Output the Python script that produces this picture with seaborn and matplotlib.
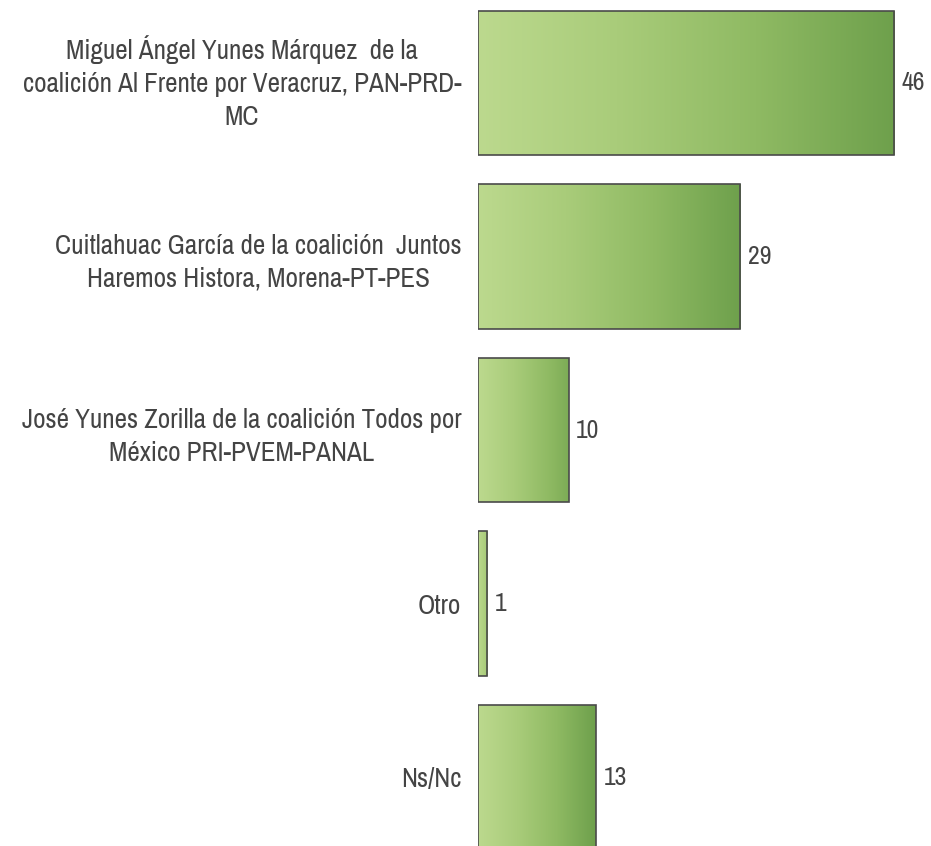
import numpy as np
import pandas as pd
import matplotlib
matplotlib.use("Agg")
import matplotlib.pyplot as plt
from matplotlib.colors import LinearSegmentedColormap
from matplotlib import font_manager as fm
import seaborn as sns

categories = [
    "Miguel Ángel Yunes Márquez  de la\ncoalición Al Frente por Veracruz, PAN-PRD-\nMC",
    "Cuitlahuac García de la coalición  Juntos\nHaremos Histora, Morena-PT-PES",
    "José Yunes Zorilla de la coalición Todos por\nMéxico PRI-PVEM-PANAL",
    "Otro",
    "Ns/Nc",
]
values = [46, 29, 10, 1, 13]

sns.set_theme(style="white")
installed = set(f.name for f in fm.fontManager.ttflist)
cands = ['Liberation Sans Narrow', 'Arial Narrow', 'Archivo Narrow', 'PT Sans Narrow',
         'Roboto Condensed', 'Liberation Sans']
fams = [c for c in cands if c in installed] + ['DejaVu Sans']
plt.rcParams['font.family'] = fams

W, H = 931, 846
fig = plt.figure(figsize=(W / 100, H / 100), dpi=100)
left = 478 / W
ax = fig.add_axes([left, 0, 1 - left, 1])

df = pd.DataFrame({"cat": categories, "val": values})
sns.barplot(data=df, x="val", y="cat", orient="h", width=0.83,
            color="#9cc46e", edgecolor="#4a4a4a", linewidth=1.2, ax=ax)

cmap = LinearSegmentedColormap.from_list("g", ["#bcd98e", "#a9cc7a", "#8fba63", "#6ea04c"])
for p in ax.patches:
    x0, y0 = p.get_x(), p.get_y()
    w, h = p.get_width(), p.get_height()
    frac = min(1.0, w / 20 + 0.35)
    im = ax.imshow(np.linspace(0, frac, 256).reshape(1, -1), cmap=cmap, vmin=0, vmax=1,
                   extent=[x0, x0 + w, y0 + h, y0], aspect="auto", zorder=p.get_zorder() - 0.1)
    im.set_clip_path(p)
    p.set_facecolor("none")
    p.set_zorder(3)

for i, v in enumerate(values):
    ax.text(v + 0.85, i, str(v), va="center", ha="left", fontsize=18.5, color="#444444")

xmax = (W - 478) / 9.05
ax.set_xlim(0, xmax)
top = -83 / 173.5
bottom = (H - 83) / 173.5
ax.set_ylim(bottom, top)

ax.set_xlabel("")
ax.set_ylabel("")
ax.set_xticks([])
ax.tick_params(axis="y", length=0, pad=12)
for t in ax.get_yticklabels():
    t.set_multialignment("center")
    t.set_fontsize(19.5)
    t.set_linespacing(1.4)
    t.set_color("#444444")
    if t.get_text().count("\n") == 2:
        t.set_verticalalignment("center")
for s in ax.spines.values():
    s.set_visible(False)

fig.savefig("out.png", dpi=100)
